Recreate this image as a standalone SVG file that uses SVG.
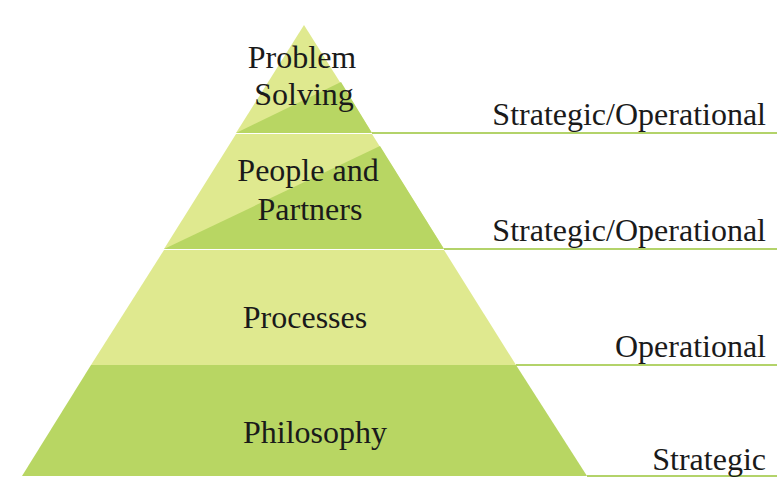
<svg xmlns="http://www.w3.org/2000/svg" width="777" height="478" viewBox="0 0 777 478">
<style>
.light{fill:#dfe98f}
.dark{fill:#b8d663}
text{font-size:32px;fill:#1a1a1a}
.c{text-anchor:middle}
.r{text-anchor:end}
.ln{stroke:#b3d36a;stroke-width:2;fill:none}
</style>
<rect width="777" height="478" fill="#ffffff"/>
<g font-family="Liberation Serif, DejaVu Serif, serif">
<g id="problem-solving">
<polygon class="light" points="304,25 236,133 372,133"/>
<polygon class="dark" points="236,133 372,133 341,82"/>
<text class="c" x="302" y="68">Problem</text>
<text class="c" x="304" y="105">Solving</text>
</g>
<g id="people-and-partners">
<polygon class="light" points="236,134 372,134 444,249 164,249"/>
<polygon class="dark" points="164,249 444,249 380,146"/>
<text class="c" x="308" y="181">People and</text>
<text class="c" x="310" y="220">Partners</text>
</g>
<g id="processes">
<polygon class="light" points="164,250 444,250 516,365 91,365"/>
<text class="c" x="305" y="328">Processes</text>
</g>
<g id="philosophy">
<polygon class="dark" points="91,365 516,365 587,476 22,476"/>
<text class="c" x="315" y="443">Philosophy</text>
</g>
<g id="connectors">
<line class="ln" x1="372" y1="133" x2="777" y2="133"/>
<line class="ln" x1="444" y1="249" x2="777" y2="249"/>
<line class="ln" x1="516" y1="365" x2="777" y2="365"/>
<line class="ln" x1="587" y1="476" x2="777" y2="476"/>
</g>
<g id="labels">
<text class="r" x="766" y="125">Strategic/Operational</text>
<text class="r" x="766" y="241">Strategic/Operational</text>
<text class="r" x="766" y="357">Operational</text>
<text class="r" x="766" y="470">Strategic</text>
</g>
</g>
</svg>
